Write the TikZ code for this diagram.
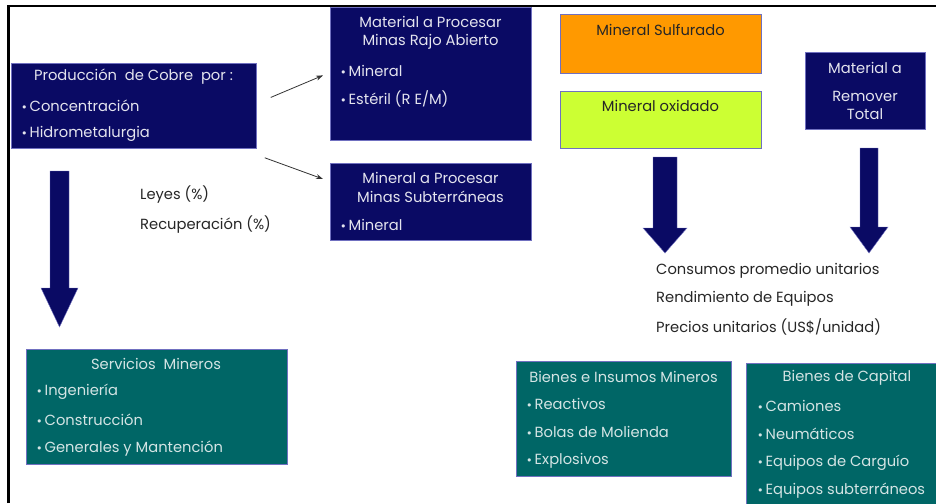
\documentclass[tikz,border=0pt]{standalone}
\usepackage{fontspec}
\setmainfont{Poppins}
\newfontfamily\bulfont{DejaVu Sans}
\usetikzlibrary{arrows.meta}
\definecolor{navy}{HTML}{0A0A64}
\definecolor{teal2}{HTML}{006666}
\definecolor{orng}{HTML}{FF9900}
\definecolor{lime}{HTML}{CCFF33}
\definecolor{edge}{HTML}{7070C0}
\definecolor{lighttxt}{HTML}{E4E4EE}
\definecolor{tealtxt}{HTML}{D4E4E4}
\tikzset{
  box/.style={draw=edge, line width=0.8pt, anchor=north west, inner sep=0pt},
  navybox/.style={box, fill=navy},
  tealbox/.style={box, fill=teal2},
  wtxt/.style={text=lighttxt, font=\fontsize{14.7}{16}\selectfont, inner sep=0pt},
  ttxt/.style={text=tealtxt, font=\fontsize{14.7}{16}\selectfont, inner sep=0pt},
  btxt/.style={text=black!85, font=\fontsize{14.7}{16}\selectfont, inner sep=0pt},
  thinarrow/.style={draw=black!80, line width=0.8pt, -{Stealth[length=7pt,width=5pt]}},
  bigarrow/.style={fill=navy, draw=edge, line width=0.4pt},
  frameline/.style={line width=2.6pt, black}
}
\newcommand{\bul}{{\bulfont\fontsize{11}{11}\selectfont\raisebox{0.5pt}{•}}\hspace{2pt}}
\begin{document}
\begin{tikzpicture}[x=1pt,y=-1pt]
\useasboundingbox[fill=white] (0,0) rectangle (936,503);
% frame
\draw[frameline] (8.5,503) -- (8.5,6) -- (936,6);
% boxes
\node[navybox, minimum width=245, minimum height=85] (prod) at (11,63) {};
\node[navybox, minimum width=201, minimum height=133] (rajo) at (330,7) {};
\node[navybox, minimum width=201, minimum height=77] (sub) at (330,163) {};
\node[box, fill=orng, minimum width=201, minimum height=59] (sulf) at (560,14) {};
\node[box, fill=lime, minimum width=201, minimum height=57] (oxid) at (560,91) {};
\node[navybox, minimum width=120, minimum height=77] (remover) at (805,52) {};
\node[tealbox, minimum width=261, minimum height=115] (serv) at (26,349) {};
\node[tealbox, minimum width=215, minimum height=115] (insumos) at (516,361) {};
\node[tealbox, minimum width=195, minimum height=145] (capital) at (746,363) {};
% texts in Produccion
\node[wtxt] (prodt) at (133.5,77) {Producción\ \ de Cobre\ \ por :};
\node[wtxt, anchor=west] (prod1) at (21,106) {\bul Concentración};
\node[wtxt, anchor=west] (prod2) at (21,134) {\bul Hidrometalurgia};
% rajo
\node[wtxt] (rajot1) at (430.5,22) {Material a Procesar};
\node[wtxt] (rajot2) at (430.5,42) {Minas Rajo Abierto};
\node[wtxt, anchor=west] (rajo1) at (340,71) {\bul Mineral};
\node[wtxt, anchor=west] (rajo2) at (340,99) {\bul Estéril (R E/M)};
% sub
\node[wtxt] (subt1) at (430.5,178) {Mineral a Procesar};
\node[wtxt] (subt2) at (430.5,197) {Minas Subterráneas};
\node[wtxt, anchor=west] (sub1) at (340,225) {\bul Mineral};
% sulf / oxid
\node[btxt] (sulft) at (660.5,30) {Mineral Sulfurado};
\node[btxt] (oxidt) at (660.5,106) {Mineral oxidado};
% remover
\node[wtxt] (remt1) at (865,68) {Material a};
\node[wtxt] (remt2) at (865,96) {Remover};
\node[wtxt] (remt3) at (865,114) {Total};
% leyes
\node[btxt, anchor=west] (leyes) at (140,195) {Leyes (\%)};
\node[btxt, anchor=west] (recup) at (140,225) {Recuperación (\%)};
% consumos
\node[btxt, anchor=west] (cons) at (656,271) {Consumos promedio unitarios};
\node[btxt, anchor=west] (rend) at (656,299) {Rendimiento de Equipos};
\node[btxt, anchor=west] (prec) at (656,327) {Precios unitarios (US\$/unidad)};
% servicios
\node[ttxt] (servt) at (156,364) {Servicios\ \ Mineros};
\node[ttxt, anchor=west] (serv1) at (36,392) {\bul Ingeniería};
\node[ttxt, anchor=west] (serv2) at (36,420) {\bul Construcción};
\node[ttxt, anchor=west] (serv3) at (36,449) {\bul Generales y Mantención};
% insumos
\node[ttxt] (inst) at (623.5,377) {Bienes e Insumos Mineros};
\node[ttxt, anchor=west] (ins1) at (526,404) {\bul Reactivos};
\node[ttxt, anchor=west] (ins2) at (526,432) {\bul Bolas de Molienda};
\node[ttxt, anchor=west] (ins3) at (526,461) {\bul Explosivos};
% capital
\node[ttxt] (capt) at (847,378) {Bienes de Capital};
\node[ttxt, anchor=west] (cap1) at (757,406) {\bul Camiones};
\node[ttxt, anchor=west] (cap2) at (757,434) {\bul Neumáticos};
\node[ttxt, anchor=west] (cap3) at (757,463) {\bul Equipos de Carguío};
\node[ttxt, anchor=west] (cap4) at (757,491) {\bul Equipos subterráneos};
% thin arrows
\draw[thinarrow] ([xshift=14pt,yshift=8.5pt]prod.east) -- ([xshift=-7pt,yshift=-1.5pt]rajo.west);
\draw[thinarrow] ([xshift=8pt,yshift=-9pt]prod.south east) -- ([xshift=-7pt,yshift=-16pt]sub.north west);
% block arrows
\draw[bigarrow] (50,171) -- (69,171) -- (69,288) -- (78,288) -- (59.5,327) -- (41,288) -- (50,288) -- cycle;
\draw[bigarrow] (653,157) -- (677,157) -- (677,228) -- (687,228) -- (665,253) -- (643,228) -- (653,228) -- cycle;
\draw[bigarrow] (860,148) -- (878,148) -- (878,227) -- (888,227) -- (869,253) -- (850,227) -- (860,227) -- cycle;
\end{tikzpicture}
\end{document}
